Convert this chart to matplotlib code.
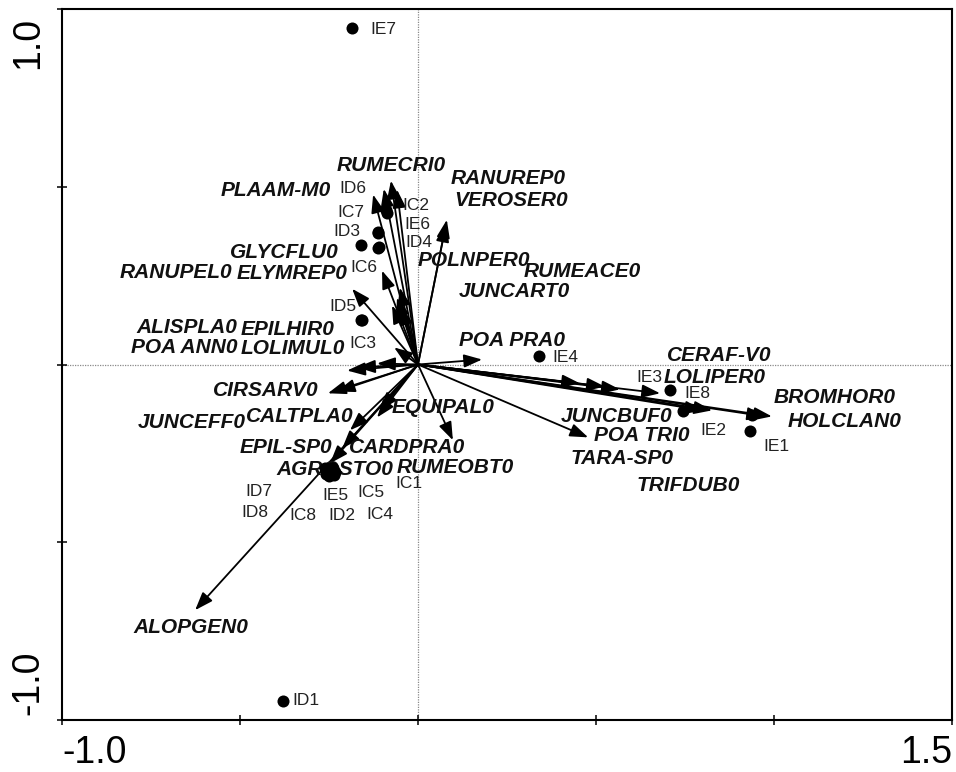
import matplotlib
matplotlib.use("Agg")
import matplotlib.pyplot as plt

plt.rcParams['font.family'] = ['Liberation Sans', 'DejaVu Sans']

# Species scores (arrow tips), ordination axes 1 and 2
species = ["RUMECRI0", "GLYCFLU0", "PLAAM-M0", "RUMEACE0", "RANUREP0", "VEROSER0",
           "RANUPEL0", "ELYMREP0", "POLNPER0", "EPILHIR0", "ALISPLA0", "JUNCART0",
           "LOLIMUL0", "POA ANN0", "", "", "CIRSARV0", "JUNCEFF0", "CALTPLA0",
           "EQUIPAL0", "CARDPRA0", "EPIL-SP0", "AGROSTO0", "ALOPGEN0", "RUMEOBT0",
           "POA TRI0", "POA PRA0", "CERAF-V0", "LOLIPER0", "", "JUNCBUF0",
           "TARA-SP0", "TRIFDUB0", "HOLCLAN0", "BROMHOR0"]
sp_x = [-0.076, -0.096, -0.126, -0.059, 0.081, 0.079,
        -0.101, -0.185, -0.051, -0.059, -0.073, -0.048,
        -0.067, -0.171, -0.199, -0.115, -0.253, -0.228, -0.191,
        -0.107, -0.115, -0.213, -0.247, -0.626, 0.098,
        0.478, 0.180, 0.455, 0.525, 0.567, 0.680,
        0.801, 0.826, 0.975, 0.994]
sp_y = [0.517, 0.494, 0.478, 0.492, 0.407, 0.396,
        0.264, 0.213, 0.216, 0.188, 0.166, 0.163,
        0.048, -0.008, -0.017, 0.003, -0.081, -0.076, -0.185,
        -0.129, -0.149, -0.236, -0.278, -0.691, -0.213,
        -0.205, 0.014, -0.053, -0.062, -0.070, -0.081,
        -0.129, -0.129, -0.146, -0.146]

# Sample scores
samples = ["IE7", "ID1", "IE4", "IE3", "IE8", "IE2", "IE1",
           "ID6", "IC2", "IC7", "IE6", "ID3", "ID4", "IC6", "ID5", "IC3",
           "IE5", "IC5", "ID7", "ID8", "IC8", "ID2", "IC4", "IC1"]
sa_x = [-0.185, -0.379, 0.340, 0.708, 0.744, 0.938, 0.933,
        -0.090, -0.087, -0.112, -0.112, -0.160, -0.112, -0.110, -0.160, -0.157,
        -0.247, -0.239, -0.261, -0.258, -0.250, -0.236, -0.233, -0.244]
sa_y = [0.947, -0.947, 0.025, -0.073, -0.132, -0.143, -0.188,
        0.435, 0.427, 0.374, 0.371, 0.337, 0.329, 0.331, 0.124, 0.126,
        -0.303, -0.292, -0.292, -0.309, -0.315, -0.312, -0.301, -0.292]

# Label placement (centre of each text, in axis units)
species_label_pos = {
    "RUMECRI0": (-0.076, 0.559), "PLAAM-M0": (-0.399, 0.489),
    "RANUREP0": (0.253, 0.522), "VEROSER0": (0.261, 0.461),
    "GLYCFLU0": (-0.376, 0.315), "ELYMREP0": (-0.354, 0.256),
    "RANUPEL0": (-0.680, 0.258), "POLNPER0": (0.157, 0.292),
    "RUMEACE0": (0.461, 0.261), "JUNCART0": (0.270, 0.205),
    "ALISPLA0": (-0.649, 0.104), "EPILHIR0": (-0.365, 0.098),
    "POA ANN0": (-0.657, 0.048), "LOLIMUL0": (-0.351, 0.045),
    "POA PRA0": (0.264, 0.067), "CERAF-V0": (0.846, 0.025),
    "LOLIPER0": (0.834, -0.037), "BROMHOR0": (1.171, -0.093),
    "HOLCLAN0": (1.199, -0.160), "CIRSARV0": (-0.427, -0.073),
    "JUNCEFF0": (-0.635, -0.163), "CALTPLA0": (-0.331, -0.146),
    "EQUIPAL0": (0.070, -0.121), "JUNCBUF0": (0.559, -0.146),
    "POA TRI0": (0.629, -0.199), "TARA-SP0": (0.573, -0.264),
    "TRIFDUB0": (0.758, -0.340), "EPIL-SP0": (-0.371, -0.233),
    "CARDPRA0": (-0.030, -0.233), "AGROSTO0": (-0.233, -0.295),
    "RUMEOBT0": (0.104, -0.289), "ALOPGEN0": (-0.638, -0.739),
}
sample_label_pos = {
    "IE7": (-0.096, 0.941), "ID1": (-0.315, -0.944), "IE4": (0.413, 0.020),
    "IE3": (0.649, -0.037), "IE8": (0.784, -0.082), "IE2": (0.831, -0.185),
    "IE1": (1.006, -0.230), "ID6": (-0.183, 0.494), "IC7": (-0.188, 0.427),
    "ID3": (-0.199, 0.374), "IC2": (-0.006, 0.447), "IE6": (-0.003, 0.393),
    "ID4": (0.003, 0.343), "IC6": (-0.152, 0.272), "ID5": (-0.211, 0.163),
    "IC3": (-0.154, 0.059), "ID7": (-0.447, -0.357), "ID8": (-0.458, -0.416),
    "IC8": (-0.323, -0.424), "IE5": (-0.233, -0.368), "ID2": (-0.213, -0.424),
    "IC5": (-0.132, -0.360), "IC4": (-0.107, -0.421), "IC1": (-0.025, -0.334),
}

W, H = 956, 772
fig = plt.figure(figsize=(W / 100, H / 100), dpi=100)
ax = fig.add_axes([62 / W, 1 - 720 / H, 890 / W, 711 / H])
ax.set_xlim(-1.0, 1.5)
ax.set_ylim(-1.0, 1.0)

# Dotted zero lines
ax.axhline(0, color="#8a8a8a", lw=0.9, ls=(0, (1, 1)), zorder=1)
ax.axvline(0, color="#8a8a8a", lw=0.9, ls=(0, (1, 1)), zorder=1)

# Species arrows
for name, x, y in zip(species, sp_x, sp_y):
    ax.annotate("", xy=(x, y), xytext=(0, 0),
                arrowprops=dict(arrowstyle="-|>,head_length=0.55,head_width=0.2",
                                mutation_scale=20, color="black", lw=1.3,
                                shrinkA=0, shrinkB=0), zorder=3)
    if name:
        lx, ly = species_label_pos[name]
        ax.text(lx, ly, name, fontsize=15, fontweight="bold", fontstyle="italic",
                ha="center", va="center", color="#111111", zorder=4)

# Samples
ax.scatter(sa_x, sa_y, s=75, color="black", zorder=5, linewidths=0)
for name in samples:
    lx, ly = sample_label_pos[name]
    ax.text(lx, ly, name, fontsize=12.5, ha="center", va="center",
            color="#222222", zorder=6)

# Frame and ticks
for side in ax.spines.values():
    side.set_linewidth(1.5)
ax.set_xticks([-1.0, -0.5, 0.0, 0.5, 1.0, 1.5])
ax.set_yticks([-1.0, -0.5, 0.0, 0.5, 1.0])
ax.tick_params(direction="inout", length=7, width=1.1, labelbottom=False,
               labelleft=False, top=False, right=False)

# Axis end labels
fig.text(62 / W, 1 / H, "-1.0", fontsize=27, ha="left", va="bottom")
fig.text(952 / W, 1 / H, "1.5", fontsize=27, ha="right", va="bottom")
fig.text(28 / W, 1 - 17 / H, "1.0", fontsize=27, rotation=90, ha="center", va="top")
fig.text(28 / W, 1 - 715 / H, "-1.0", fontsize=27, rotation=90, ha="center", va="bottom")

fig.savefig("out.png", dpi=100)
